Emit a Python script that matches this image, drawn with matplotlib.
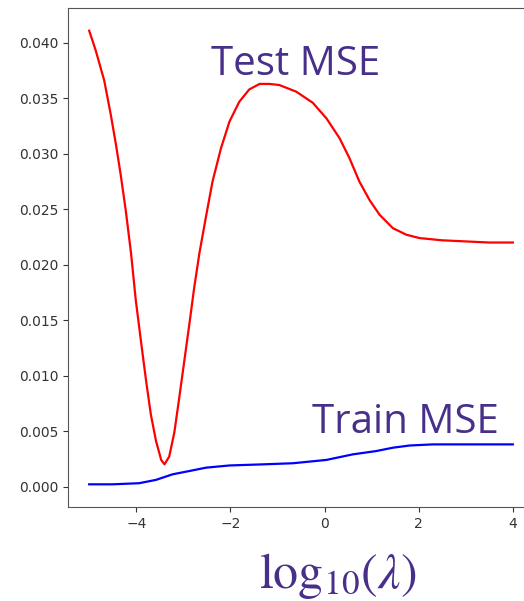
import numpy as np
import matplotlib.pyplot as plt

# valores (x = log10(lambda))
test_x = [-5.0, -4.86, -4.68, -4.54, -4.43, -4.33, -4.22, -4.11, -4.01, -3.90, -3.79, -3.69,
          -3.58, -3.47, -3.40, -3.30, -3.19, -3.09, -2.98, -2.87, -2.77, -2.66, -2.52, -2.38,
          -2.20, -2.02, -1.81, -1.60, -1.38, -1.17, -0.96, -0.60, -0.25, 0.04, 0.32, 0.53,
          0.74, 0.96, 1.17, 1.45, 1.74, 2.02, 2.5, 3.0, 3.5, 4.0]
test_y = [0.0411, 0.0393, 0.0366, 0.0335, 0.0308, 0.0281, 0.0248, 0.0210, 0.0168, 0.0131,
          0.0095, 0.0065, 0.0041, 0.0024, 0.0020, 0.0027, 0.0049, 0.0079, 0.0113, 0.0147,
          0.0179, 0.0210, 0.0243, 0.0275, 0.0305, 0.0329, 0.0347, 0.0358, 0.0363, 0.0363,
          0.0362, 0.0356, 0.0346, 0.0332, 0.0314, 0.0296, 0.0275, 0.0258, 0.0245, 0.0233,
          0.0227, 0.0224, 0.0222, 0.0221, 0.0220, 0.0220]

train_x = [-5.0, -4.5, -3.94, -3.58, -3.23, -2.87, -2.52, -2.02, -1.31, -0.67, 0.04, 0.60,
           1.10, 1.45, 1.81, 2.30, 3.0, 4.0]
train_y = [0.0002, 0.0002, 0.0003, 0.0006, 0.0011, 0.0014, 0.0017, 0.0019, 0.0020, 0.0021,
           0.0024, 0.0029, 0.0032, 0.0035, 0.0037, 0.0038, 0.0038, 0.0038]

purple = '#48308a'
plt.rcParams['mathtext.fontset'] = 'stix'

fig = plt.figure(figsize=(5.24, 6.01), dpi=100)
ax = fig.add_axes([68 / 524, 94 / 601, 466 / 524, 499 / 601])

ax.plot(test_x, test_y, color='red', lw=1.6)
ax.plot(train_x, train_y, color='blue', lw=1.6)

ax.set_xticks([-4, -2, 0, 2, 4])
ax.set_yticks(np.arange(0, 0.0401, 0.005))
ax.set_yticklabels([f'{v:.3f}' for v in np.arange(0, 0.0401, 0.005)])
ax.tick_params(labelsize=10, colors='#333333')
for s in ax.spines.values():
    s.set_color('#555555')
ax.spines['right'].set_visible(False)

# etiquetas
ax.text(-2.42, 0.0371, 'Test MSE', fontsize=29, color=purple, family='Open Sans')
ax.text(-0.26, 0.0048, 'Train MSE', fontsize=29, color=purple, family='Open Sans')
fig.text(338 / 524, 13 / 601, r'$\mathrm{log}_{10}(\lambda)$', fontsize=36, color=purple,
         ha='center', va='baseline')

fig.savefig('out.png', dpi=100)
